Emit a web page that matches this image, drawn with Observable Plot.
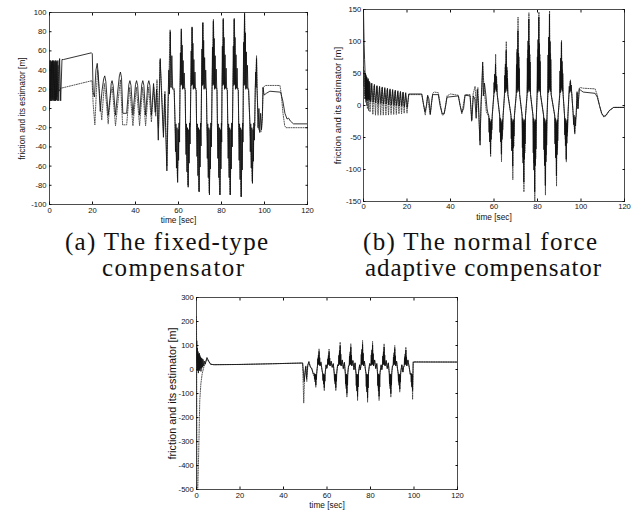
<!DOCTYPE html>
<html><head><meta charset="utf-8">
<script src="https://cdn.jsdelivr.net/npm/d3@7"></script>
<script src="https://cdn.jsdelivr.net/npm/@observablehq/plot@0.6"></script>
<style>
body{margin:0;background:#fff;}
#fig{position:relative;width:638px;height:511px;background:#fff;overflow:hidden;}
#fig svg{position:absolute;}
</style></head><body><div id="fig"></div>
<script>
// ---------- shared labels / ticks ----------
const timeTicks = [0, 20, 40, 60, 80, 100, 120];
const yLabel = "friction and its estimator [m]";
const xLabel = "time [sec]";
const captionA = ["(a) The fixed-type", "compensator"];
const captionB = ["(b) The normal force", "adaptive compensator"];

// ---------- (a) fixed-type compensator ----------
const fixedTicksY = [-100, -80, -60, -40, -20, 0, 20, 40, 60, 80, 100];
const fixedFriction = [
[0,-2],[0.2,50],[0.4,8],[0.6,50],[0.8,8],[1.0,49],[1.2,8],[1.4,50],[1.6,9],[1.8,50],[2.0,8],[2.2,49],[2.4,8],[2.6,50],[2.8,8],[3.0,50],[3.2,9],[3.4,49],[3.6,8],[3.9,50],[4.3,8],[4.7,52],[5.2,8],[5.8,51],[6.5,51],[19.5,58],
[19.9,57],[20.3,17],[20.9,12],[21.6,40],[22.2,47],[22.7,35],[23.6,-3],[24.4,18],[25.2,31],[25.7,34],[26.2,28],[27.3,-7],[28.2,12],[28.7,26],[29.1,29],[29.6,24],[30.7,-7],[31.6,15],[32.5,34],[33.0,38],[33.5,32],[34.1,-5],[35.9,-5],[36.9,25],[37.4,29],[37.9,24],[38.8,-7],[40.0,25],[40.5,29],[41.0,24],[41.9,-7],[42.9,25],[43.4,29],[43.9,24],[44.7,-7],[45.7,25],[46.2,29],[46.7,24],[47.4,-7],[48.4,26],[49.2,-4],[49.8,20],[50.6,-33],[51.5,52],[52.2,10],[53.0,-30],[53.6,15],[54.0,-20],[54.6,-65],[55.1,5],[55.5,40],[55.8,15],[56.2,80],[56.5,22],[56.9,55],[57.3,20],[58.0,19],
[58.4,-14],[58.6,-45],[58.8,-16],[59.05,-62],[59.3,-20],[59.6,-77],[59.85,-22],[60.05,-54],[60.25,-15],[60.5,-35],
[60.7,22],[60.9,58],[61.1,24],[61.3,83],[61.5,25],[61.7,66],[61.9,20],[62.15,50],[62.4,21],[62.65,37],[62.9,20],[63.1,19],
[63.3,-14],[63.5,-48],[63.7,-16],[63.95,-66],[64.2,-20],[64.5,-82],[64.75,-22],[64.95,-57],[65.15,-15],[65.4,-37],
[65.7,22],[65.9,60],[66.1,24],[66.3,85],[66.5,25],[66.7,68],[66.9,20],[67.15,51],[67.4,21],[67.65,38],[67.9,20],[68.2,19],
[68.4,-14],[68.6,-50],[68.8,-16],[69.05,-70],[69.3,-20],[69.6,-87],[69.85,-22],[70.05,-61],[70.25,-15],[70.5,-39],
[70.7,22],[70.9,62],[71.1,24],[71.3,89],[71.5,25],[71.7,71],[71.9,20],[72.15,53],[72.4,21],[72.65,40],[72.9,20],[73.0,19],
[73.2,-14],[73.4,-52],[73.6,-16],[73.85,-72],[74.1,-20],[74.4,-90],[74.65,-22],[74.85,-63],[75.05,-15],[75.3,-40],
[75.6,22],[75.8,64],[76.0,24],[76.2,91],[76.4,25],[76.6,73],[76.8,20],[77.05,55],[77.3,21],[77.55,41],[77.8,20],[77.9,19],
[78.1,-14],[78.3,-52],[78.5,-16],[78.75,-72],[79.0,-20],[79.3,-90],[79.55,-22],[79.75,-63],[79.95,-15],[80.1,-35],
[80.2,22],[80.4,65],[80.6,24],[80.8,93],[81.0,25],[81.2,74],[81.4,20],[81.65,56],[81.9,21],[82.15,42],[82.4,20],[82.7,19],
[82.9,-14],[83.1,-52],[83.3,-16],[83.55,-72],[83.8,-20],[84.1,-90],[84.35,-22],[84.55,-63],[84.75,-15],[85.0,-40],
[85.3,22],[85.5,65],[85.7,24],[85.9,93],[86.1,25],[86.3,74],[86.5,20],[86.75,56],[87.0,21],[87.25,42],[87.5,20],[87.8,19],
[88.0,-14],[88.2,-54],[88.4,-16],[88.65,-74],[88.9,-20],[89.2,-92],[89.45,-22],[89.65,-64],[89.85,-15],[90.0,-35],
[90.1,22],[90.3,69],[90.5,24],[90.7,99],[90.9,25],[91.1,79],[91.3,20],[91.55,59],[91.8,21],[92.05,45],[92.3,20],[92.6,19],
[93.2,-14],[93.4,-45],[93.6,-16],[93.85,-62],[94.1,-20],[94.4,-78],[94.65,-22],[94.85,-55],[95.05,-15],[95.3,-33],
[95.7,20],[95.9,38],[96.1,22],[96.3,52],[96.5,20],[96.7,10],
[97.0,-20],[97.4,0],[97.8,-25],[98.2,-5],[98.6,-22],[99.0,-8],[99.3,22],[99.8,14],[101,16],[102.5,18],[107.5,17],[108.5,8],[109.5,-5],[110.5,-11],[111.2,-10],[112,-13],[113.5,-16],[120,-16]
];
const fixedEstimate = [
[0,0],[0.3,45],[0.6,10],[1.0,48],[1.5,10],[2.0,46],[2.5,10],[3.0,48],[3.5,12],[4.0,45],[4.5,18],[5.1,21],[19.8,29],[20.3,5],[21.1,-17],[21.8,18],[22.4,40],[23.4,12],[24.3,-12],[25.5,26],[26.4,8],[27.3,-16],[28.4,14],[29.2,22],[30.7,-18],[31.9,8],[33.0,30],[34.0,-17],[35.9,-17],[37.3,22],[38.8,-18],[40.4,22],[41.9,-18],[43.3,22],[44.7,-18],[46.1,22],[47.4,-14],[48.5,22],[49.4,-8],[50.0,30],[50.7,-20],[51.4,50],[52.1,22],[53.0,-25],[53.7,18],[54.6,-60],[55.2,0],[56.1,82],[56.6,22],[58.0,21],
[58.4,-18],[59.5,-72],[60.2,-20],[60.5,-18],[60.7,20],[61.35,80],[62.0,22],[63.1,21],
[63.3,-18],[64.4,-80],[65.1,-20],[65.5,-18],[65.7,20],[66.35,84],[67.0,22],[68.2,21],
[68.4,-18],[69.5,-86],[70.2,-20],[70.5,-18],[70.7,20],[71.35,90],[72.0,22],[73.0,21],
[73.2,-18],[74.3,-88],[75.0,-20],[75.4,-18],[75.6,20],[76.25,93],[76.9,22],[77.9,21],
[78.1,-18],[79.2,-90],[79.9,-20],[80.1,-18],[80.3,20],[80.85,94],[81.5,22],[82.7,21],
[82.9,-18],[84.0,-90],[84.7,-20],[85.1,-18],[85.3,20],[85.95,94],[86.6,22],[87.8,21],
[88.0,-18],[89.1,-92],[89.8,-20],[90.0,-18],[90.2,20],[90.75,100],[91.4,22],[92.6,21],
[93.2,-18],[94.3,-76],[95.0,-20],[95.5,-18],[95.7,20],[96.3,55],[96.7,10],
[97.2,-22],[98.5,-24],[99.0,-10],[99.4,22],[100.5,24],[107.2,24],[107.8,15],[108.6,-5],[109.4,-18],[110,-20],[120,-20]
];

// ---------- (b) normal force adaptive compensator ----------
const normalTicksY = [-150, -100, -50, 0, 50, 100, 150];
const normalFriction = [
[0,148],[0.15,120],[0.3,95],[0.5,72],[0.7,55],[0.8,15],[0.9,50],[1.0,10],[1.1,48],[1.2,12],[1.3,45],[1.4,8],[1.55,44],[1.7,10],[1.85,40],[2.0,8],[2.15,42],[2.3,10],[2.5,38],[2.7,8],[2.9,36],[3.3,6],
[3.8,35],[4.4,5],[5.0,33],[5.6,4],[6.2,31],[6.8,3],[7.4,30],[8.0,3],[8.6,29],[9.2,2],[9.8,28],[10.4,2],[11.0,27],[11.6,1],[12.2,26],[12.8,1],[13.4,25],[14.0,0],[14.6,24],[15.2,0],[15.8,23],[16.4,-1],[17.0,22],[17.6,-1],[18.2,21],[18.8,-2],[19.4,20],[20.1,-3],
[20.8,18],[26.8,18],[27.6,2],[28.3,-10],[29.0,0],[29.5,16],[30.1,10],[30.7,-13],[31.3,5],[31.8,17],[34.4,17],[35.2,0],[36.2,-13],[37.1,-12],[37.8,0],[38.4,13],[43.6,15],[44.4,0],[45.2,-11],[46.0,-5],[46.7,16],[49.0,15],[49.8,-23],[50.5,15],[51.2,10],[51.8,-20],[52.3,25],[52.8,5],[53.6,-62],[54.0,0],[54.4,30],[54.8,68],[55.1,15],[55.6,35],[56.2,18],[56.8,-5],[57.2,-12],
[57.6,-15],[57.75,-42],[57.9,-20],[58.05,-57],[58.2,-25],[58.4,-76],[58.55,-28],[58.7,-53],[58.85,-22],[59.0,-38],[59.2,-15],
[59.9,17],[60.05,36],[60.2,20],[60.35,49],[60.5,25],[60.7,65],[60.85,28],[61.0,46],[61.15,22],[61.3,33],[61.5,17],
[62.6,-15],[62.75,-42],[62.9,-20],[63.05,-57],[63.2,-25],[63.4,-76],[63.55,-28],[63.7,-53],[63.85,-22],[64.0,-38],[64.2,-15],
[64.8,17],[64.95,47],[65.1,20],[65.25,65],[65.4,25],[65.6,86],[65.75,28],[65.9,60],[66.05,22],[66.2,43],[66.4,17],
[67.8,-15],[67.95,-52],[68.1,-20],[68.25,-71],[68.4,-25],[68.6,-95],[68.75,-28],[68.9,-66],[69.05,-22],[69.2,-48],[69.4,-15],
[70.2,17],[70.35,64],[70.5,20],[70.65,88],[70.8,25],[71.0,117],[71.15,28],[71.3,82],[71.45,22],[71.6,58],[71.8,17],
[72.9,-15],[73.05,-66],[73.2,-20],[73.35,-90],[73.5,-25],[73.7,-120],[73.85,-28],[74.0,-84],[74.15,-22],[74.3,-60],[74.5,-15],
[75.2,17],[75.35,74],[75.5,20],[75.65,101],[75.8,25],[76.0,135],[76.15,28],[76.3,94],[76.45,22],[76.6,68],[76.8,17],
[77.9,-15],[78.05,-74],[78.2,-20],[78.35,-101],[78.5,-25],[78.7,-135],[78.85,-28],[79.0,-94],[79.15,-22],[79.3,-68],[79.5,-15],
[79.8,17],[79.95,76],[80.1,20],[80.25,103],[80.4,25],[80.6,138],[80.75,28],[80.9,97],[81.05,22],[81.2,69],[81.4,17],
[82.8,-15],[82.95,-69],[83.1,-20],[83.25,-94],[83.4,-25],[83.6,-125],[83.75,-28],[83.9,-88],[84.05,-22],[84.2,-62],[84.4,-15],
[84.7,17],[84.85,79],[85.0,20],[85.15,107],[85.3,25],[85.5,143],[85.65,28],[85.8,100],[85.95,22],[86.1,72],[86.3,17],
[87.9,-15],[88.05,-60],[88.2,-20],[88.35,-82],[88.5,-25],[88.7,-110],[88.85,-28],[89.0,-77],[89.15,-22],[89.3,-55],[89.5,-15],
[90.2,17],[90.35,54],[90.5,20],[90.65,74],[90.8,25],[91.0,99],[91.15,28],[91.3,69],[91.45,22],[91.6,50],[91.8,17],
[92.4,-15],[92.55,-46],[92.7,-20],[92.85,-63],[93.0,-25],[93.2,-84],[93.35,-28],[93.5,-59],[93.65,-22],[93.8,-42],[94.0,-15],
[94.4,15],[94.6,30],[94.8,20],[95.1,38],[95.3,22],[95.5,32],[95.8,15],
[96.4,-12],[96.6,-30],[96.8,-15],[97.1,-42],[97.3,-18],[97.5,-32],[97.8,-12],
[98.2,20],[98.6,-5],[99.2,26],[99.8,24],[101,21],[106.5,19],[107.5,13],[108.5,0],[109.5,-12],[110.5,-17],[111.5,-15],[113,-8],[115,-3],[120,-3]
];
const normalEstimate = [
[0,60],[0.2,30],[0.4,55],[0.6,10],[0.8,50],[1.0,5],[1.2,45],[1.4,0],[1.6,42],[1.8,-5],[2.0,40],[2.3,-8],[2.6,38],[3.0,-10],[3.6,33],[4.3,-14],[4.9,31],[5.5,-15],[6.1,30],[6.7,-15],[7.3,28],[7.9,-15],[8.5,27],[9.1,-15],[9.7,26],[10.3,-15],[10.9,25],[11.5,-15],[12.1,24],[12.7,-14],[13.3,23],[13.9,-14],[14.5,22],[15.1,-14],[15.7,21],[16.3,-13],[16.9,20],[17.5,-13],[18.1,20],[18.7,-12],[19.3,19],[20.0,-12],
[20.8,17],[26.8,17],[28.4,-15],[29.4,14],[30.7,-15],[31.8,19],[32.5,21],[34.4,20],[36.2,-15],[37.1,-14],[38.4,15],[40,18],[43.6,16],[45.2,-13],[46.7,17],[49,17],[49.7,-25],[50.4,18],[51.3,30],[52,-10],[52.6,28],[53.5,-55],[54.2,10],[54.8,62],[55.5,25],[56.5,-10],[57.2,-15],
[57.7,-18],[58.0,-48],[58.15,-22],[58.45,-80],[58.7,-25],[58.9,-44],[59.15,-18],
[60.0,18],[60.3,48],[60.45,22],[60.75,80],[61.0,25],[61.2,44],[61.45,18],
[62.7,-18],[63.0,-53],[63.15,-22],[63.45,-88],[63.7,-25],[63.9,-48],[64.15,-18],
[64.9,18],[65.2,60],[65.35,22],[65.65,100],[65.9,25],[66.1,55],[66.35,18],
[67.9,-18],[68.2,-70],[68.35,-22],[68.65,-116],[68.9,-25],[69.1,-64],[69.35,-18],
[70.3,18],[70.6,83],[70.75,22],[71.05,138],[71.3,25],[71.5,76],[71.75,18],
[73.0,-18],[73.3,-81],[73.45,-22],[73.75,-135],[74.0,-25],[74.2,-74],[74.45,-18],
[75.3,18],[75.6,87],[75.75,22],[76.05,145],[76.3,25],[76.5,80],[76.75,18],
[78.0,-18],[78.3,-90],[78.45,-22],[78.75,-150],[79.0,-25],[79.2,-83],[79.45,-18],
[79.9,18],[80.2,88],[80.35,22],[80.65,146],[80.9,25],[81.1,80],[81.35,18],
[82.9,-18],[83.2,-84],[83.35,-22],[83.65,-140],[83.9,-25],[84.1,-77],[84.35,-18],
[84.8,18],[85.1,89],[85.25,22],[85.55,148],[85.8,25],[86.0,81],[86.25,18],
[88.0,-18],[88.3,-76],[88.45,-22],[88.75,-126],[89.0,-25],[89.2,-69],[89.45,-18],
[90.3,18],[90.6,61],[90.75,22],[91.05,102],[91.3,25],[91.5,56],[91.75,18],
[92.5,-18],[92.8,-53],[92.95,-22],[93.25,-88],[93.5,-25],[93.7,-48],[93.95,-18],
[94.5,18],[94.8,30],[95.15,40],[95.5,25],[95.8,18],
[96.4,-15],[96.8,-30],[97.15,-45],[97.5,-22],[97.8,-15],
[98.2,22],[98.6,-5],[99.2,27],[99.8,28],[101,27],[106.5,26],[107.5,16],[108.5,0],[109.5,-13],[110.5,-18],[111.5,-16],[113,-8],[115,-3],[120,-3]
];

// ---------- (c) third compensator ----------
const thirdTicksY = [-500, -400, -300, -200, -100, 0, 100, 200, 300];
const thirdFriction = [
[0,30],[0.12,120],[0.25,0],[0.4,90],[0.55,-5],[0.7,75],[0.85,-15],[1.0,65],[1.15,0],[1.3,68],[1.45,-5],[1.6,58],[1.75,5],[1.9,52],[2.05,-8],[2.2,48],[2.4,5],[2.6,45],[2.8,10],[3.0,42],[3.3,15],[3.6,35],[4.0,22],[4.8,50],[5.6,35],[6.5,22],[8,20],[20,21],[35,24],[48.8,27],
[49.2,-15],[49.5,-50],[49.8,-20],[50.2,12],[50.6,-38],[51.1,15],[51.6,30],[52.3,12],[53.0,2],[53.7,-18],
[54.1,-15],[54.25,-39],[54.4,-18],[54.55,-52],[54.7,-20],[54.85,-65],[55.0,-22],[55.15,-42],[55.3,-10],
[55.6,15],[55.75,45],[55.9,20],[56.05,60],[56.2,22],[56.35,75],[56.5,20],[56.65,49],[56.8,15],
[57.2,30],[57.7,0],
[58.0,-15],[58.15,-46],[58.3,-18],[58.45,-61],[58.6,-20],[58.75,-76],[58.9,-22],[59.05,-49],[59.2,-10],
[59.6,20],[59.9,5],
[60.2,15],[60.35,44],[60.5,20],[60.65,59],[60.8,22],[60.95,74],[61.1,20],[61.25,48],[61.4,15],
[61.9,35],[62.4,10],[62.9,25],
[63.3,-15],[63.45,-46],[63.6,-18],[63.75,-61],[63.9,-20],[64.05,-76],[64.2,-22],[64.35,-49],[64.5,-10],
[64.9,20],
[65.3,15],[65.45,59],[65.6,20],[65.75,79],[65.9,22],[66.05,99],[66.2,20],[66.35,64],[66.5,15],
[67.0,40],[67.5,5],[68.0,30],
[68.4,-15],[68.55,-60],[68.7,-18],[68.85,-80],[69.0,-20],[69.15,-100],[69.3,-22],[69.45,-65],[69.6,-10],
[69.9,15],
[70.2,15],[70.35,56],[70.5,20],[70.65,74],[70.8,22],[70.95,93],[71.1,20],[71.25,60],[71.4,15],
[71.9,38],[72.4,0],[72.9,28],
[73.3,-15],[73.45,-67],[73.6,-18],[73.75,-90],[73.9,-20],[74.05,-112],[74.2,-22],[74.35,-73],[74.5,-10],
[75.0,20],[75.3,0],
[75.6,15],[75.75,63],[75.9,20],[76.05,84],[76.2,22],[76.35,105],[76.5,20],[76.65,68],[76.8,15],
[77.2,35],[77.6,5],
[77.9,-15],[78.05,-71],[78.2,-18],[78.35,-94],[78.5,-20],[78.65,-118],[78.8,-22],[78.95,-77],[79.1,-10],
[79.6,25],
[80.2,15],[80.35,61],[80.5,20],[80.65,82],[80.8,22],[80.95,102],[81.1,20],[81.25,66],[81.4,15],
[81.9,40],[82.4,5],[82.9,25],
[83.2,-15],[83.35,-67],[83.5,-18],[83.65,-90],[83.8,-20],[83.95,-112],[84.1,-22],[84.25,-73],[84.4,-10],
[84.9,20],[85.2,0],
[85.5,15],[85.65,56],[85.8,20],[85.95,74],[86.1,22],[86.25,93],[86.4,20],[86.55,60],[86.7,15],
[87.2,38],[87.7,5],[88.2,28],
[88.6,-15],[88.75,-60],[88.9,-18],[89.05,-80],[89.2,-20],[89.35,-100],[89.5,-22],[89.65,-65],[89.8,-10],
[90.1,15],
[90.4,15],[90.55,52],[90.7,20],[90.85,70],[91.0,22],[91.15,87],[91.3,20],[91.45,57],[91.6,15],
[92.0,35],[92.4,5],
[92.7,-15],[92.85,-49],[93.0,-18],[93.15,-66],[93.3,-20],[93.45,-82],[93.6,-22],[93.75,-53],[93.9,-10],
[94.4,20],[94.9,-10],[95.2,10],
[95.5,15],[95.65,49],[95.8,20],[95.95,65],[96.1,22],[96.25,81],[96.4,20],[96.55,53],[96.7,15],
[97.2,40],[97.8,10],[98.3,-20],
[98.6,-15],[98.75,-53],[98.9,-18],[99.05,-70],[99.2,-20],[99.35,-88],[99.5,-22],[99.6,30],[100.5,31],[120,31]
];
const thirdEstimate = [
[0,220],[0.25,-495],[0.6,-495],[1.0,-350],[1.5,-130],[2.0,-60],[2.6,-18],[3.5,15],[4.8,45],[5.6,33],[6.5,22],[8,20],[20,21],[35,24],[48.8,27],[49.3,-140],[49.7,-30],[50.3,15],[50.7,-50],[51.2,20],[51.7,35],[52.4,10],[53.1,5],[53.8,-25],[54.2,-20],
[54.5,-44],[54.65,-25],[54.85,-74],[55.1,-25],[55.3,-15],
[55.7,20],[56.0,52],[56.15,25],[56.35,86],[56.6,25],[56.8,15],
[57.2,32],[57.7,-5],
[58.1,-20],[58.4,-53],[58.55,-25],[58.75,-88],[59.0,-25],[59.2,-15],
[59.6,18],[59.9,5],
[60.3,20],[60.6,51],[60.75,25],[60.95,85],[61.2,25],[61.4,15],
[61.9,32],[62.4,8],[62.9,22],
[63.4,-20],[63.7,-53],[63.85,-25],[64.05,-88],[64.3,-25],[64.5,-15],
[64.9,18],
[65.4,20],[65.7,68],[65.85,25],[66.05,114],[66.3,25],[66.5,15],
[67.0,38],[67.5,2],[68.0,28],
[68.5,-20],[68.8,-69],[68.95,-25],[69.15,-115],[69.4,-25],[69.6,-15],
[69.9,14],
[70.3,20],[70.6,64],[70.75,25],[70.95,107],[71.2,25],[71.4,15],
[71.9,36],[72.4,-2],[72.9,26],
[73.4,-20],[73.7,-77],[73.85,-25],[74.05,-129],[74.3,-25],[74.5,-15],
[75.0,18],[75.3,-2],
[75.7,20],[76.0,73],[76.15,25],[76.35,121],[76.6,25],[76.8,15],
[77.2,33],[77.6,3],
[78.0,-20],[78.3,-82],[78.45,-25],[78.65,-136],[78.9,-25],[79.1,-15],
[79.6,23],
[80.3,20],[80.6,70],[80.75,25],[80.95,117],[81.2,25],[81.4,15],
[81.9,38],[82.4,3],[82.9,23],
[83.3,-20],[83.6,-77],[83.75,-25],[83.95,-129],[84.2,-25],[84.4,-15],
[84.9,18],[85.2,-2],
[85.6,20],[85.9,64],[86.05,25],[86.25,107],[86.5,25],[86.7,15],
[87.2,36],[87.7,3],[88.2,26],
[88.7,-20],[89.0,-69],[89.15,-25],[89.35,-115],[89.6,-25],[89.8,-15],
[90.1,13],
[90.5,20],[90.8,60],[90.95,25],[91.15,100],[91.4,25],[91.6,15],
[92.0,33],[92.4,3],
[92.8,-20],[93.1,-56],[93.25,-25],[93.45,-94],[93.7,-25],[93.9,-15],
[94.4,18],[94.9,-12],[95.2,8],
[95.6,20],[95.9,56],[96.05,25],[96.25,93],[96.5,25],[96.7,15],
[97.2,38],[97.8,8],[98.3,-22],
[98.7,-20],[99.0,-75],[99.15,-25],[99.35,-125],[99.55,-20],[99.65,32],[120,31]
];

// ---------- drawing ----------
const fig = document.getElementById("fig");

function panel(o) {
  const svg = Plot.plot({
    width: o.width, height: o.height,
    marginLeft: o.ml, marginRight: o.mr, marginTop: o.mt, marginBottom: o.mb,
    x: {domain: [0, 120]},
    y: {domain: o.yDomain},
    style: {fontFamily: "'Liberation Sans', Arial, Helvetica, sans-serif", fontSize: "7.6px", background: "transparent", color: "#111", overflow: "visible"},
    marks: [
      Plot.line(o.estimate, {x: d => d[0], y: d => d[1], stroke: "#444", strokeWidth: 0.9, strokeDasharray: "1.1,1.3", clip: true}),
      Plot.line(o.friction, {x: d => d[0], y: d => d[1], stroke: "#111", strokeWidth: 0.85, clip: true}),
      Plot.frame({stroke: "#222", strokeWidth: 0.8}),
      Plot.axisX(timeTicks, {anchor: "bottom", tickSize: -2.5, tickPadding: o.xPad, tickFormat: d => String(d), label: null}),
      Plot.axisX(timeTicks, {anchor: "top", tickSize: -2.5, tickFormat: () => "", label: null}),
      Plot.axisY(o.yTicks, {anchor: "left", tickSize: -2.5, tickPadding: o.yPad, tickFormat: d => String(d), label: null}),
      Plot.axisY(o.yTicks, {anchor: "right", tickSize: -2.5, tickFormat: () => "", label: null}),
      Plot.text([yLabel], {frameAnchor: "left", rotate: -90, textAnchor: "middle", lineAnchor: "middle", dx: o.yLabelDx, fontSize: o.yLabelSize}),
      Plot.text([xLabel], {frameAnchor: "bottom", textAnchor: "middle", lineAnchor: "middle", dy: o.xLabelDy, fontSize: 8.3})
    ]
  });
  svg.style.left = o.left + "px";
  svg.style.top = o.top + "px";
  fig.appendChild(svg);
}

panel({left: 0, top: 0, width: 320, height: 232, ml: 49, mr: 13, mt: 12, mb: 28,
  yDomain: [-100, 100], yTicks: fixedTicksY, friction: fixedFriction, estimate: fixedEstimate,
  xPad: 5.5, yPad: 5.5, yLabelDx: -27, yLabelSize: 8.4, xLabelDy: 16});
panel({left: 320, top: 0, width: 318, height: 230, ml: 43, mr: 14, mt: 9, mb: 29,
  yDomain: [-150, 150], yTicks: normalTicksY, friction: normalFriction, estimate: normalEstimate,
  xPad: 4.5, yPad: 4.8, yLabelDx: -26, yLabelSize: 9.6, xLabelDy: 15.7});
panel({left: 150, top: 285, width: 330, height: 226, ml: 46, mr: 23, mt: 12, mb: 22,
  yDomain: [-500, 300], yTicks: thirdTicksY, friction: thirdFriction, estimate: thirdEstimate,
  xPad: 6, yPad: 5.2, yLabelDx: -24, yLabelSize: 10.8, xLabelDy: 16});

// captions
const cap = d3.create("svg").attr("width", 638).attr("height", 511)
  .style("left", "0px").style("top", "0px").style("pointer-events", "none");
const capFont = "'Liberation Serif', 'DejaVu Serif', serif";
function capLine(text, x0, x1, y) {
  cap.append("text").attr("x", x0).attr("y", y)
    .attr("textLength", x1 - x0).attr("lengthAdjust", "spacing")
    .attr("font-family", capFont).attr("font-size", 25).attr("fill", "#111").text(text);
}
capLine(captionA[0], 65, 268, 250);
capLine(captionA[1], 102, 244, 275.5);
capLine(captionB[0], 363, 597, 250);
capLine(captionB[1], 365, 601, 275.5);
fig.appendChild(cap.node());
</script></body></html>
